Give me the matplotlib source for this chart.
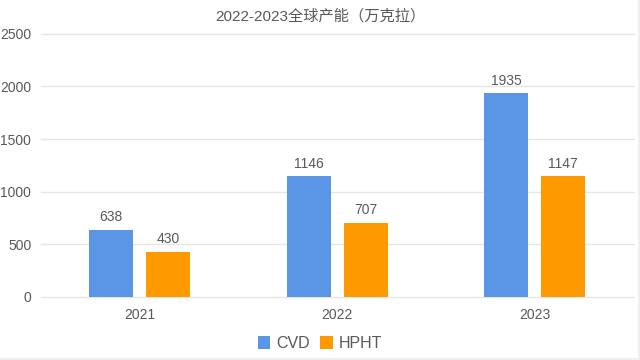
import numpy as np
import matplotlib.pyplot as plt

plt.rcParams['font.family'] = ['Liberation Sans', 'Noto Sans CJK SC', 'DejaVu Sans']

years = ['2021', '2022', '2023']
cvd = [638, 1146, 1935]
hpht = [430, 707, 1147]

blue = '#5b95e6'
orange = '#ff9900'
text_color = '#595959'

fig = plt.figure(figsize=(6.4, 3.6), dpi=100)
ax = fig.add_axes([0.064, 0.175, 0.926, 0.731])

x = np.arange(len(years))
w = 0.223
off = 0.1445
b1 = ax.bar(x - off, cvd, w, color=blue, label='CVD', zorder=3)
b2 = ax.bar(x + off, hpht, w, color=orange, label='HPHT', zorder=3)

for bars in (b1, b2):
    ax.bar_label(bars, padding=4, fontsize=10, color=text_color)

ax.set_xlim(-0.5, 2.5)
ax.set_ylim(0, 2500)
ax.set_yticks(range(0, 2501, 500))
ax.set_xticks(x)
ax.set_xticklabels(years)
ax.grid(axis='y', color='#e6e6e6', linewidth=1, zorder=0)
for gl in ax.get_ygridlines():
    gl.set_clip_on(False)
for s in ax.spines.values():
    s.set_visible(False)
ax.tick_params(axis='both', length=0, labelsize=10, colors=text_color)
ax.tick_params(axis='x', pad=8)
ax.tick_params(axis='y', pad=7)

fig.suptitle('2022-2023全球产能（万克拉）', x=0.5, y=0.975, fontsize=11, color=text_color)

fig.legend(loc='lower center', bbox_to_anchor=(0.5, -0.015), ncol=2, frameon=False,
           fontsize=11.5, labelcolor=text_color, handlelength=0.8, handleheight=0.8,
           handletextpad=0.4, columnspacing=0.6)

# faint edge on the right and bottom of the chart
fig.add_artist(plt.Line2D([0, 0.998, 0.998], [0.003, 0.003, 1], transform=fig.transFigure,
                          color='#efefef', linewidth=1.5))

fig.savefig('out.png', dpi=100, facecolor='white')
